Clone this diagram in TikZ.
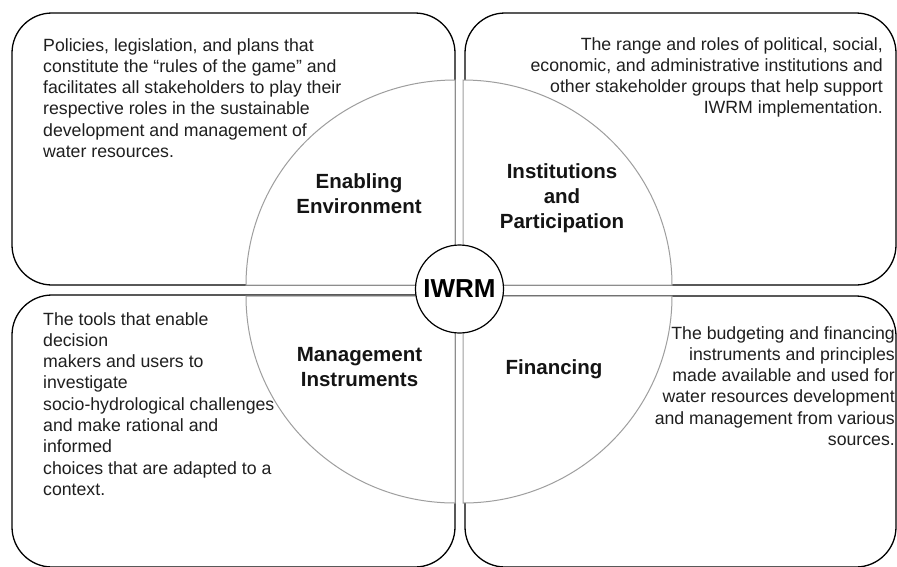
\documentclass[tikz,border=0pt]{standalone}
\usepackage{fontspec}
\setmainfont{Liberation Sans}
\begin{document}
\begin{tikzpicture}[x=1pt,y=-1pt,
  box/.style={draw=black, line width=1.3pt, rounded corners=40pt, fill=white, inner sep=0pt, outer sep=0pt, anchor=north west},
  sector/.style={draw=black!38, line width=1pt, fill=white},
  desc/.style={inner sep=0pt, font=\fontsize{17.7}{21.3}\selectfont, text=black!88},
  lbl/.style={inner sep=0pt, align=center, anchor=north, font=\bfseries\fontsize{20.5}{25}\selectfont, text=black!92},
  hub/.style={circle, draw=black, line width=1.2pt, fill=white, minimum size=88pt, inner sep=0pt, font=\bfseries\fontsize{26}{30}\selectfont}
]
\useasboundingbox (0,0) rectangle (897,566);
% boxes
\node[box, minimum width=443pt, minimum height=272pt] (tlbox) at (12,13) {};
\node[box, minimum width=431pt, minimum height=272pt] (trbox) at (465,13) {};
\node[box, minimum width=443pt, minimum height=272pt] (blbox) at (12,295) {};
\node[box, minimum width=431pt, minimum height=271pt] (brbox) at (465,296) {};
% quarter sectors
\draw[sector] (455,285) -- (246,285) arc[start angle=180, end angle=90, x radius=209pt, y radius=205pt] -- cycle;
\draw[sector] (463,285) -- (463,80) arc[start angle=90, end angle=0, x radius=209pt, y radius=205pt] -- cycle;
\draw[sector] (455,296) -- (246,296) arc[start angle=180, end angle=270, x radius=209pt, y radius=207pt] -- cycle;
\draw[sector] (463,296) -- (672,296) arc[start angle=0, end angle=-90, x radius=209pt, y radius=207pt] -- cycle;
% hub
\node[hub] (iwrm) at (459.5,289) {IWRM};
% labels
\node[lbl] (enab) at (359,173) {Enabling\\Environment};
\node[lbl] (inst) at (562,163) {Institutions\\and\\Participation};
\node[lbl] (mgmt) at (359.5,347) {Management\\Instruments};
\node[lbl] (fin) at (554,359) {Financing};
% descriptions
\node[desc, align=left, anchor=north west] (tltext) at (43,38) {Policies, legislation, and plans that\\constitute the “rules of the game” and\\facilitates all stakeholders to play their\\respective roles in the sustainable\\development and management of\\water resources.};
\node[desc, align=right, anchor=north east] (trtext) at (883,37) {The range and roles of political, social,\\economic, and administrative institutions and\\other stakeholder groups that help support\\IWRM implementation.};
\node[desc, align=left, anchor=north west] (bltext) at (43,312) {The tools that enable\\decision\\makers and users to\\investigate\\socio-hydrological challenges\\and make rational and\\informed\\choices that are adapted to a\\context.};
\node[desc, align=right, anchor=north east] (brtext) at (895,326) {The budgeting and financing\\instruments and principles\\made available and used for\\water resources development\\and management from various\\sources.};
\end{tikzpicture}
\end{document}
